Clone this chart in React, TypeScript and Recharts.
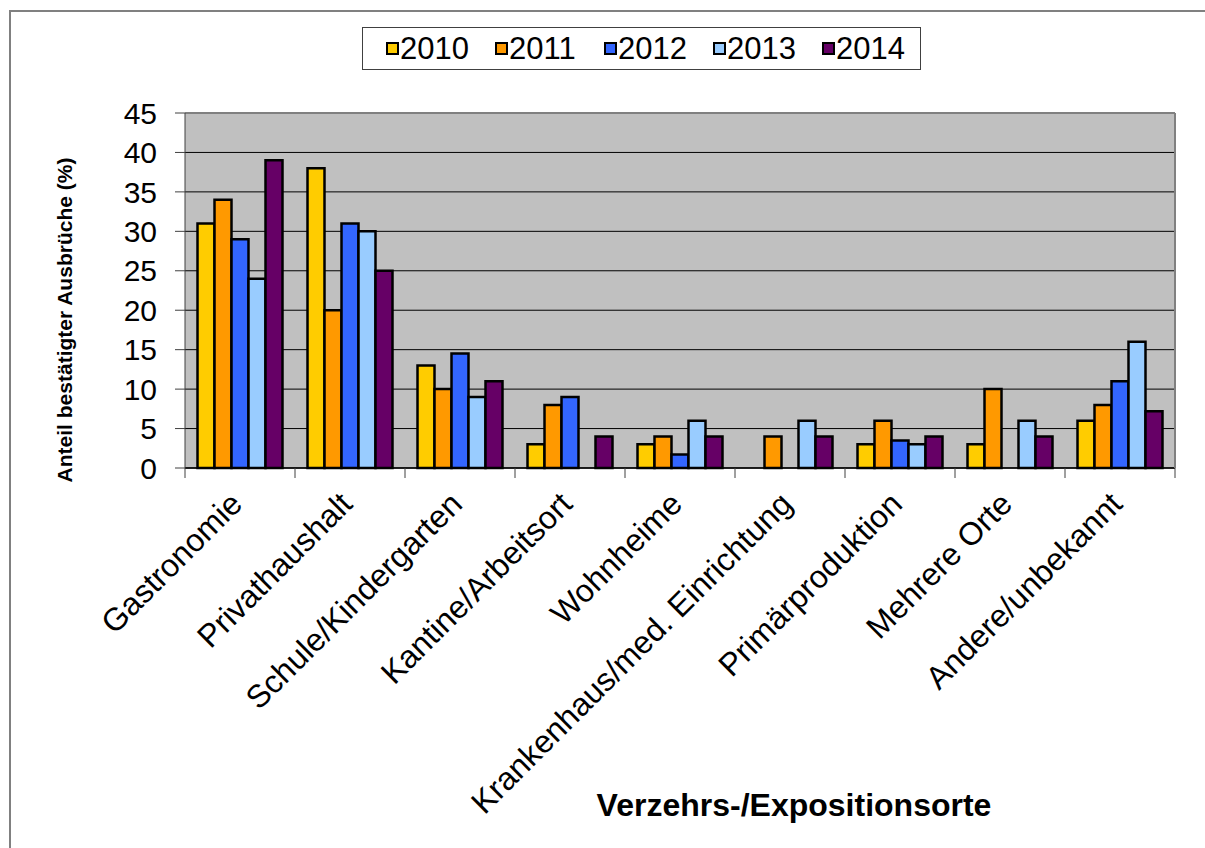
import React from 'react';
import { BarChart, Bar, XAxis, YAxis, CartesianGrid, Legend, ReferenceLine, Customized } from 'recharts';

const categories = [
  'Gastronomie',
  'Privathaushalt',
  'Schule/Kindergarten',
  'Kantine/Arbeitsort',
  'Wohnheime',
  'Krankenhaus/med. Einrichtung',
  'Primärproduktion',
  'Mehrere Orte',
  'Andere/unbekannt',
];
const years = ['2010', '2011', '2012', '2013', '2014'];
const v2010 = [31, 38, 13, 3, 3, 0, 3, 3, 6];
const v2011 = [34, 20, 10, 8, 4, 4, 6, 10, 8];
const v2012 = [29, 31, 14.5, 9, 1.7, 0, 3.5, 0, 11];
const v2013 = [24, 30, 9, 0, 6, 6, 3, 6, 16];
const v2014 = [39, 25, 11, 4, 4, 4, 4, 4, 7.2];
const seriesValues = [v2010, v2011, v2012, v2013, v2014];
const colors = ['#FFCC00', '#FF9900', '#3366FF', '#99CCFF', '#660066'];
const yTicks = [0, 5, 10, 15, 20, 25, 30, 35, 40, 45];
const yTitle = 'Anteil bestätigter Ausbrüche (%)';
const xTitle = 'Verzehrs-/Expositionsorte';

const data = categories.map((name, i) => {
  const row: Record<string, any> = { name };
  years.forEach((y, k) => {
    row[y] = seriesValues[k][i];
  });
  return row;
});

const FONT = '"Liberation Sans", Arial, Helvetica, sans-serif';

function XTick(props: any) {
  const { x, y, payload, index, visibleTicksCount, width } = props;
  const count = visibleTicksCount || categories.length;
  const half = (Number(width) || 990) / count / 2;
  const axisY = y - 10;
  const px = x + 4;
  const py = y + 28;
  return (
    <g>
      <line x1={x - half} x2={x - half} y1={axisY} y2={axisY + 10} stroke="#404040" strokeWidth={1} />
      {index === count - 1 && (
        <line x1={x + half} x2={x + half} y1={axisY} y2={axisY + 10} stroke="#404040" strokeWidth={1} />
      )}
      <text
        x={px}
        y={py}
        textAnchor="end"
        transform={`rotate(-45 ${px} ${py})`}
        fontSize={32}
        fontFamily={FONT}
        fill="#000"
      >
        {payload.value}
      </text>
    </g>
  );
}

function LegendBox(props: any) {
  const payload = props.payload || [];
  return (
    <div
      style={{
        boxSizing: 'border-box',
        width: 559,
        height: 43,
        border: '1px solid #404040',
        background: '#fff',
        display: 'flex',
        alignItems: 'center',
        paddingLeft: 23,
        fontFamily: FONT,
      }}
    >
      {payload.map((p: any) => (
        <div key={p.value} style={{ display: 'flex', alignItems: 'center', width: 109, flex: '0 0 109px' }}>
          <span
            style={{
              display: 'block',
              width: 13,
              height: 13,
              flex: '0 0 13px',
              boxSizing: 'border-box',
              border: '2px solid #000',
              background: p.color,
              marginRight: 1,
            }}
          />
          <span style={{ fontSize: 31, lineHeight: '31px', color: '#000' }}>{p.value}</span>
        </div>
      ))}
    </div>
  );
}

function Titles() {
  return (
    <g>
      <text
        x={72}
        y={320}
        transform="rotate(-90 72 320)"
        textAnchor="middle"
        fontWeight="bold"
        fontSize={21}
        fontFamily={FONT}
        fill="#000"
      >
        {yTitle}
      </text>
      <text x={794} y={816} textAnchor="middle" fontWeight="bold" fontSize={32} fontFamily={FONT} fill="#000">
        {xTitle}
      </text>
    </g>
  );
}

export default function App() {
  return (
    <div style={{ position: 'absolute', left: 0, top: 0, width: 1205, height: 848, overflow: 'hidden', background: '#fff' }}>
      <div
        style={{
          position: 'absolute',
          left: 9,
          top: 10,
          width: 1196,
          height: 838,
          borderLeft: '2px solid #808080',
          borderTop: '2px solid #808080',
          boxSizing: 'border-box',
        }}
      />
      <div style={{ position: 'absolute', left: 0, top: 0 }}>
        <BarChart
          width={1205}
          height={848}
          data={data}
          margin={{ top: 113, right: 0, left: 0, bottom: 0 }}
          barCategoryGap={12.5}
          barGap={0}
        >
          <CartesianGrid vertical={false} stroke="#000" fill="#C0C0C0" fillOpacity={1} />
          <XAxis
            dataKey="name"
            height={380}
            interval={0}
            tickLine={false}
            tickSize={10}
            tickMargin={0}
            axisLine={{ stroke: '#000', strokeWidth: 1.5 }}
            tick={<XTick />}
          />
          <YAxis
            width={185}
            domain={[0, 45]}
            ticks={yTicks}
            interval={0}
            tickSize={10}
            tickMargin={18}
            axisLine={{ stroke: '#404040' }}
            tickLine={{ stroke: '#404040' }}
            tick={{ fontSize: 30, fill: '#000', fontFamily: FONT }}
          />
          <YAxis
            yAxisId="r"
            orientation="right"
            width={30}
            domain={[0, 45]}
            tick={false}
            tickLine={false}
            axisLine={{ stroke: '#808080', strokeWidth: 2 }}
          />
          <ReferenceLine y={45} stroke="#808080" strokeWidth={2} />
          {years.map((y, k) => (
            <Bar
              key={y}
              dataKey={y}
              name={y}
              fill={colors[k]}
              stroke="#000"
              strokeWidth={2.5}
              isAnimationActive={false}
            />
          ))}
          <Legend
            layout="horizontal"
            verticalAlign="middle"
            align="center"
            content={<LegendBox />}
            wrapperStyle={{ left: 362, top: 27, width: 559, height: 43 }}
          />
          <Customized component={Titles} />
        </BarChart>
      </div>
    </div>
  );
}
